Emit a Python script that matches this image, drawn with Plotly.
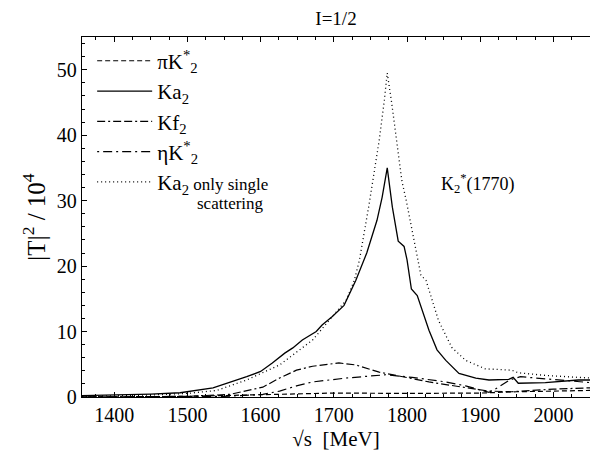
## |T|^2 for I=1/2 channels, K2*(1770) region

import plotly.graph_objects as go

# sqrt(s) in MeV and |T|^2 / 10^4
x_ka2 = [1356, 1400, 1450, 1490, 1535, 1581, 1600, 1616, 1633, 1644, 1657, 1676, 1684,
         1698, 1714, 1730, 1745, 1759, 1766, 1773, 1780, 1788, 1796, 1800, 1806, 1814,
         1830, 1841, 1853, 1871, 1894, 1912, 1939, 1945, 1952, 1989, 2034, 2050]
y_ka2 = [0.2, 0.3, 0.45, 0.65, 1.4, 3.1, 3.9, 5.2, 6.7, 7.5, 8.7, 10.0, 11.0,
         12.3, 14.0, 17.8, 22.0, 27.0, 30.5, 35.0, 29.0, 23.8, 23.0, 21.0, 16.5, 15.5,
         10.2, 7.2, 5.6, 3.6, 2.9, 2.6, 2.7, 3.0, 2.1, 2.2, 2.6, 2.6]

x_single = [1356, 1400, 1450, 1500, 1540, 1581, 1626, 1671, 1694, 1717, 1728, 1735,
            1748, 1762, 1769, 1773, 1779, 1786, 1793, 1799, 1810, 1819, 1826, 1843,
            1861, 1880, 1907, 1943, 1952, 1989, 2034, 2050]
y_single = [0.1, 0.15, 0.3, 0.55, 1.0, 2.6, 4.9, 8.7, 11.7, 14.8, 17.8, 20.9,
            29.3, 39.2, 45.3, 49.5, 45.0, 39.0, 33.0, 30.0, 24.0, 18.6, 17.8, 11.7,
            7.6, 5.6, 4.3, 4.1, 3.7, 3.3, 3.0, 2.9]

x_pik2 = [1356, 1500, 1600, 1650, 1700, 1800, 1900, 1950, 2000, 2050]
y_pik2 = [0.0, 0.1, 0.35, 0.5, 0.6, 0.55, 0.6, 0.8, 0.9, 1.0]

x_kf2 = [1356, 1500, 1558, 1603, 1626, 1649, 1671, 1707, 1730, 1762, 1785, 1830,
         1876, 1912, 1943, 2000, 2050]
y_kf2 = [0.0, 0.1, 0.4, 1.5, 2.9, 4.1, 4.7, 5.2, 4.9, 3.8, 3.3, 2.3,
         1.5, 0.9, 0.8, 1.2, 1.4]

x_etak2 = [1356, 1550, 1603, 1626, 1649, 1671, 1717, 1753, 1771, 1807, 1853, 1880,
           1900, 1912, 1925, 1940, 1955, 2000, 2050]
y_etak2 = [0.0, 0.1, 0.4, 0.9, 1.7, 2.3, 2.9, 3.2, 3.4, 3.0, 2.3, 1.7,
           1.1, 0.7, 1.5, 2.6, 3.1, 2.7, 2.2]

font = "Liberation Serif, Times New Roman, serif"

fig = go.Figure()
fig.add_trace(go.Scatter(x=x_pik2, y=y_pik2, mode="lines", name="πK<sup>*</sup><sub>2</sub>",
                         line=dict(color="black", width=1.2, dash="5px,3px")))
fig.add_trace(go.Scatter(x=x_ka2, y=y_ka2, mode="lines", name="Ka<sub>2</sub>",
                         line=dict(color="black", width=1.3)))
fig.add_trace(go.Scatter(x=x_kf2, y=y_kf2, mode="lines", name="Kf<sub>2</sub>",
                         line=dict(color="black", width=1.2, dash="8px,3px,2px,3px,8px,3px")))
fig.add_trace(go.Scatter(x=x_etak2, y=y_etak2, mode="lines", name="ηK<sup>*</sup><sub>2</sub>",
                         line=dict(color="black", width=1.2, dash="2px,4px,9px,4px")))
fig.add_trace(go.Scatter(x=x_single, y=y_single, mode="lines",
                         name="Ka<sub>2</sub><span style='font-size:17px'> only single</span>",
                         line=dict(color="black", width=1.3, dash="1px,3px")))

fig.add_annotation(x=1844, y=32.6, xref="x", yref="y", xanchor="left", showarrow=False,
                   text="K<sub>2</sub><sup>*</sup>(1770)", font=dict(family=font, size=18, color="black"))
fig.add_annotation(x=0.222, y=0.538, xref="paper", yref="paper", xanchor="left", showarrow=False,
                   text="scattering", font=dict(family=font, size=17, color="black"))

fig.update_layout(
    width=590, height=455,
    margin=dict(l=82, r=0, t=37, b=58, autoexpand=False),
    paper_bgcolor="white", plot_bgcolor="white",
    font=dict(family=font, size=20, color="black"),
    title=dict(text="I=1/2", x=0.5, xref="paper", y=0.975, yanchor="top",
               font=dict(family=font, size=19)),
    showlegend=True,
    legend=dict(x=0.02, y=0.99, xanchor="left", yanchor="top", bgcolor="rgba(0,0,0,0)",
                font=dict(family=font, size=21), tracegroupgap=0, itemwidth=55),
    xaxis=dict(range=[1356, 2050], showgrid=False, zeroline=False, showline=True, automargin=False,
               linecolor="black", linewidth=1.3, mirror="ticks",
               ticks="inside", ticklen=5, tickcolor="black", dtick=100, tick0=1400,
               minor=dict(ticks="inside", ticklen=3, dtick=25, tickcolor="black"),
               title=dict(text="√s  [MeV]", font=dict(family=font, size=21), standoff=6)),
    yaxis=dict(range=[0, 55], showgrid=False, zeroline=False, showline=True, automargin=False,
               linecolor="black", linewidth=1.3,
               ticks="inside", ticklen=5, tickcolor="black", dtick=10,
               minor=dict(ticks="inside", ticklen=3, dtick=2, tickcolor="black"),
               title=dict(text="|T|<sup>2</sup> / 10<sup>4</sup>", font=dict(family=font, size=25), standoff=4)),
)

# the page's default body margin would shift the chart by 8px
fig.write_html("out.html", config={"displayModeBar": False},
               post_script="document.body.style.margin='0';document.body.style.overflow='hidden';")
